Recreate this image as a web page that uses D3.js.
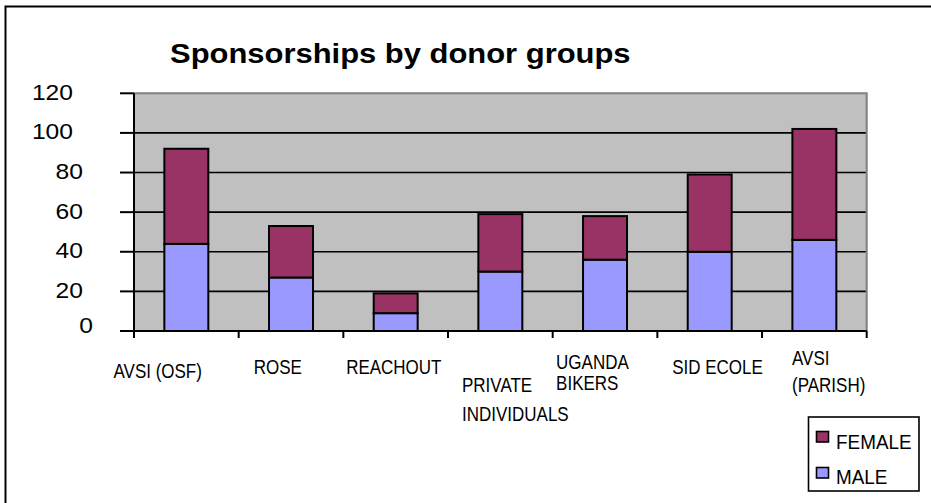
<!DOCTYPE html>
<html>
<head>
<meta charset="utf-8">
<script src="https://cdn.jsdelivr.net/npm/d3@7"></script>
<style>
  html, body { margin: 0; padding: 0; background: #fff; }
  svg { display: block; }
  text { font-family: Arial, "Liberation Sans", sans-serif; fill: #000; }
</style>
</head>
<body>
<svg id="chart" width="931" height="503"></svg>
<script>
// ---- data ----
const categories = ["AVSI (OSF)", "ROSE", "REACHOUT", "PRIVATE INDIVIDUALS", "UGANDA BIKERS", "SID ECOLE", "AVSI (PARISH)"];
const maleValues = [44, 27, 9, 30, 36, 40, 46];
const femaleValues = [48, 26, 10, 29, 22, 39, 56];
const seriesNames = ["MALE", "FEMALE"];
const yTickValues = [0, 20, 40, 60, 80, 100, 120];
const titleText = "Sponsorships by donor groups";

// ---- layout (not data) ----
const colors = { MALE: "#9999FF", FEMALE: "#993366" };
const plot = { left: 134, right: 866.7, top: 93.3, bottom: 331 };
// category label wrapping as in the reference (offset from left edge of category, baseline offsets below axis)
const labelLayout = [
  { lines: ["AVSI (OSF)"], dx: -20.5, dy: [47] },
  { lines: ["ROSE"], dx: 15, dy: [43] },
  { lines: ["REACHOUT"], dx: 2.8, dy: [43] },
  { lines: ["PRIVATE", "INDIVIDUALS"], dx: 14, dy: [61, 89.5] },
  { lines: ["UGANDA", "BIKERS"], dx: 3.4, dy: [38, 59] },
  { lines: ["SID ECOLE"], dx: 14.8, dy: [43] },
  { lines: ["AVSI", "(PARISH)"], dx: 30, dy: [33.5, 60.5] }
];

const svg = d3.select("#chart");

// outer chart border
svg.append("rect")
  .attr("x", 5.5).attr("y", 6.5)
  .attr("width", 960).attr("height", 520)
  .attr("fill", "none").attr("stroke", "#000").attr("stroke-width", 2);

// title
svg.append("text")
  .attr("transform", "translate(170,63) scale(1.105,1)")
  .attr("font-size", 28).attr("font-weight", "bold")
  .text(titleText);

// scales
const x = d3.scaleBand().domain(categories)
  .range([plot.left, plot.right])
  .paddingInner(0.58).paddingOuter(0.29);
const y = d3.scaleLinear().domain([0, 120]).range([plot.bottom, plot.top]);
const step = x.step();

// plot background
svg.append("rect")
  .attr("x", plot.left).attr("y", y(120))
  .attr("width", plot.right - plot.left).attr("height", y(0) - y(120))
  .attr("fill", "#C0C0C0");

// gridlines
svg.append("g").selectAll("line")
  .data(yTickValues.filter(v => v > 0 && v < 120))
  .join("line")
  .attr("x1", plot.left).attr("x2", plot.right)
  .attr("y1", d => y(d)).attr("y2", d => y(d))
  .attr("stroke", "#000").attr("stroke-width", 1.6);

// plot frame top/right (gray)
svg.append("path")
  .attr("d", `M${plot.left},${y(120)}H${plot.right}V${y(0)}`)
  .attr("fill", "none").attr("stroke", "#808080").attr("stroke-width", 2);

// stacked bars
const rows = categories.map((c, i) => ({ cat: c, MALE: maleValues[i], FEMALE: femaleValues[i] }));
const stack = d3.stack().keys(seriesNames)(rows);
svg.append("g").selectAll("g")
  .data(stack)
  .join("g")
  .attr("fill", d => colors[d.key])
  .selectAll("rect")
  .data(d => d)
  .join("rect")
  .attr("x", d => x(d.data.cat))
  .attr("y", d => y(d[1]))
  .attr("width", x.bandwidth())
  .attr("height", d => y(d[0]) - y(d[1]))
  .attr("stroke", "#000").attr("stroke-width", 2);

// y axis
const yAxis = svg.append("g");
yAxis.append("line")
  .attr("x1", plot.left).attr("x2", plot.left)
  .attr("y1", y(120)).attr("y2", y(0) + 7)
  .attr("stroke", "#000").attr("stroke-width", 2);
yAxis.selectAll("line.tick")
  .data(yTickValues).join("line").attr("class", "tick")
  .attr("x1", plot.left - 14).attr("x2", plot.left)
  .attr("y1", d => y(d)).attr("y2", d => y(d))
  .attr("stroke", "#000").attr("stroke-width", 2);
yAxis.selectAll("text")
  .data(yTickValues).join("text")
  .attr("text-anchor", "end")
  .attr("font-size", 22)
  .attr("transform", d => {
    const s = String(d);
    const xr = 103 - 10 * s.length;
    const yb = y(d) + (d === 0 ? 2 : 6.5);
    return `translate(${xr},${yb}) scale(1.12,1)`;
  })
  .text(d => d);

// x axis
const xAxis = svg.append("g");
xAxis.append("line")
  .attr("x1", plot.left).attr("x2", plot.right)
  .attr("y1", y(0)).attr("y2", y(0))
  .attr("stroke", "#000").attr("stroke-width", 2);
xAxis.selectAll("line.tick")
  .data(d3.range(categories.length + 1)).join("line").attr("class", "tick")
  .attr("x1", i => plot.left + i * step).attr("x2", i => plot.left + i * step)
  .attr("y1", y(0)).attr("y2", y(0) + 7)
  .attr("stroke", "#000").attr("stroke-width", 2);

categories.forEach((c, i) => {
  const L = labelLayout[i];
  const x0 = x(c) - x.paddingOuter() * step;
  L.lines.forEach((ln, j) => {
    xAxis.append("text")
      .attr("font-size", 20)
      .attr("transform", `translate(${x0 + L.dx},${y(0) + L.dy[j]}) scale(0.85,1)`)
      .text(ln);
  });
});

// legend
const legend = svg.append("g");
legend.append("rect")
  .attr("x", 808.5).attr("y", 417)
  .attr("width", 110.5).attr("height", 74)
  .attr("fill", "#fff").attr("stroke", "#000").attr("stroke-width", 1.6);
const legendOrder = ["FEMALE", "MALE"];
legendOrder.forEach((k, i) => {
  legend.append("rect")
    .attr("x", 816.5).attr("y", 431.5 + i * 36)
    .attr("width", 12).attr("height", 10.5)
    .attr("fill", colors[k]).attr("stroke", "#000").attr("stroke-width", 1.6);
  legend.append("text")
    .attr("font-size", 21)
    .attr("transform", `translate(836,${449 + i * 34.5}) scale(0.9,1)`)
    .text(k);
});
</script>
</body>
</html>
